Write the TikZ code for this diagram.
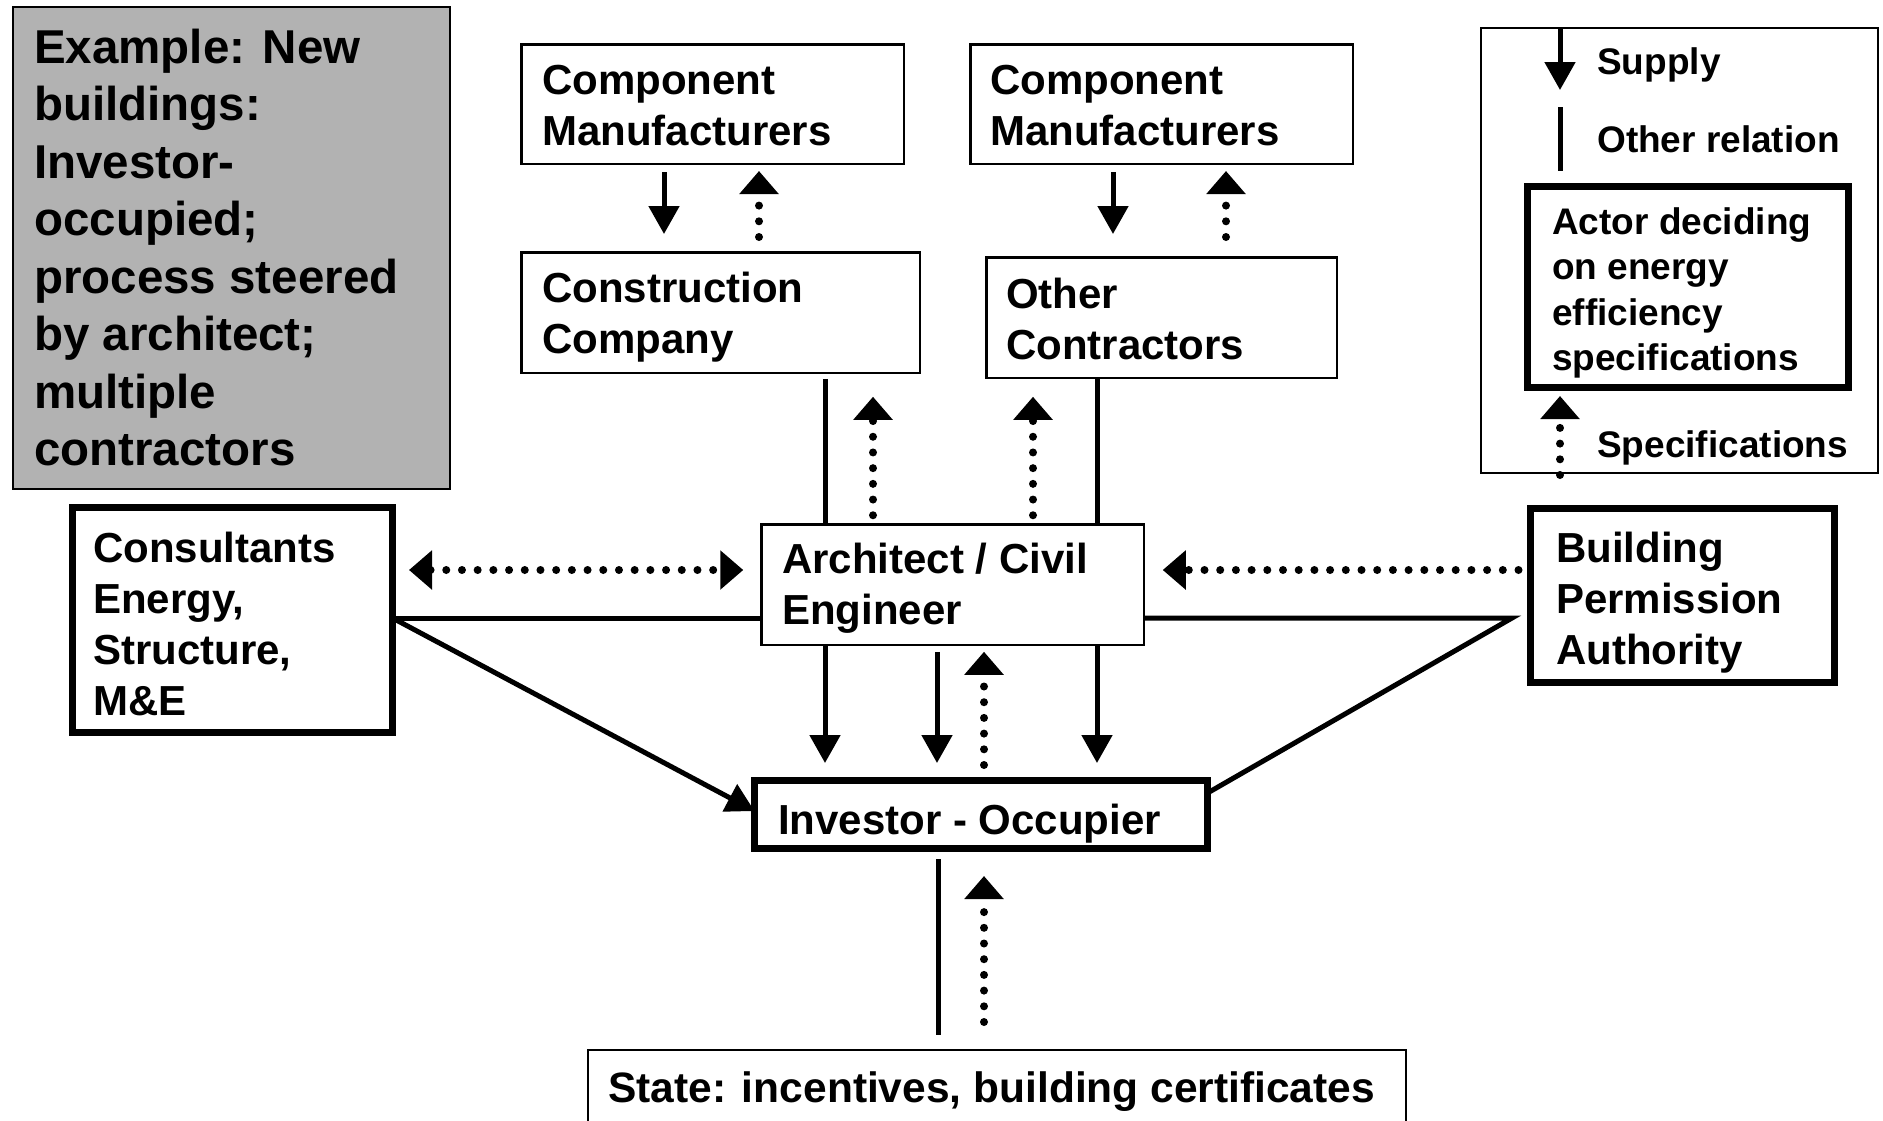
\documentclass[tikz,border=0pt]{standalone}
\usepackage{fontspec}
\setmainfont{Liberation Sans}
\usetikzlibrary{arrows.meta,calc}

\definecolor{panelgray}{gray}{0.70}
\newcommand\boxfont{\fontsize{42pt}{51pt}\selectfont\bfseries}
\newcommand\panelfont{\fontsize{47.5pt}{57.5pt}\selectfont\bfseries}
\newcommand\keyfont{\fontsize{37pt}{45.5pt}\selectfont\bfseries}

% Multi-line labels are placed by the baseline of their last line.
\tikzset{
  box/.style={draw, inner sep=0pt, outer sep=0pt, anchor=north west},
  thinbox/.style={box, line width=2.5pt},
  thickbox/.style={box, line width=7pt},
  lbl/.style={anchor=base west, inner sep=0pt, align=left, font=\boxfont},
  keylbl/.style={lbl, font=\keyfont},
  rel/.style={line width=5pt},
  supply/.style={rel, -{Triangle[length=28pt,width=30pt]}},
  spec/.style={line width=8pt, line cap=round, dash pattern=on 0pt off 15.7pt,
               -{Triangle[length=23pt,width=38pt]}},
  specboth/.style={line width=8pt, line cap=round, dash pattern=on 0pt off 15.7pt,
               {Triangle[length=23pt,width=38pt]}-{Triangle[length=23pt,width=38pt]}},
}

\begin{document}
\begin{tikzpicture}[x=1pt,y=-1pt]
\useasboundingbox (0,0) rectangle (1883,1120);
\clip (0,0) rectangle (1883,1120);

% ---- caption panel ----
\node[box, line width=2pt, fill=panelgray, minimum width=437pt, minimum height=482pt] (panel) at (13,7) {};
\node[lbl, font=\panelfont] (panel text) at (34,465.5)
  {Example: New\\buildings:\\Investor-\\occupied;\\process steered\\by architect;\\multiple\\contractors};

% ---- actors ----
\node[thinbox, minimum width=382.5pt, minimum height=119.5pt] (cm1) at (521.25,44.25) {};
\node[lbl] (cm1 text) at (542,145) {Component\\Manufacturers};

\node[thinbox, minimum width=382.5pt, minimum height=119.5pt] (cm2) at (970.25,44.25) {};
\node[lbl] (cm2 text) at (990,145) {Component\\Manufacturers};

\node[thinbox, minimum width=398.5pt, minimum height=120.5pt] (cc) at (521.25,252.25) {};
\node[lbl] (cc text) at (542,353) {Construction\\Company};

\node[thinbox, minimum width=350.5pt, minimum height=120.5pt] (oc) at (986.25,257.25) {};
\node[lbl] (oc text) at (1006,359) {Other\\Contractors};

\node[thinbox, minimum width=382.5pt, minimum height=120.5pt] (arch) at (761.25,524.25) {};
\node[lbl] (arch text) at (782,624) {Architect / Civil\\Engineer};

\node[thickbox, minimum width=453pt, minimum height=68pt] (inv) at (754.5,780.5) {};
\node[lbl] (inv text) at (778,834) {Investor - Occupier};

\node[thickbox, minimum width=320pt, minimum height=225pt] (cons) at (72.5,507.5) {};
\node[lbl] (cons text) at (93,715) {Consultants\\Energy,\\Structure,\\M\&E};

\node[thickbox, minimum width=304pt, minimum height=174pt] (bpa) at (1530.5,508.5) {};
\node[lbl] (bpa text) at (1556,664) {Building\\Permission\\Authority};

\node[box, line width=2pt, minimum width=818pt, minimum height=110pt] (state) at (588,1050) {};
\node[lbl, font=\fontsize{42.5pt}{51pt}\selectfont\bfseries] (state text) at (608,1102) {State: incentives, building certificates};

% ---- key ----
\node[box, line width=2pt, minimum width=397pt, minimum height=445pt] (key) at (1481,28) {};
\node[thickbox, minimum width=321pt, minimum height=201pt] (actor) at (1527.5,186.5) {};
\node[keylbl] (actor text) at (1552,370.5) {Actor deciding\\on energy\\efficiency\\specifications};
\node[keylbl] (supply text) at (1597,74) {Supply};
\node[keylbl] (other text) at (1597,152) {Other relation};
\node[keylbl] (spec text) at (1597,457) {Specifications};

% ---- port positions ----
\coordinate (xa) at (664,0);
\coordinate (xb) at (759,0);
\coordinate (xc) at (1113,0);
\coordinate (xd) at (1226,0);
\coordinate (xe) at (825,0);
\coordinate (xf) at (873,0);
\coordinate (xg) at (1033,0);
\coordinate (xh) at (1097,0);
\coordinate (xi) at (937,0);
\coordinate (xj) at (984,0);
\coordinate (xk) at (938,0);
\coordinate (xl) at (1560,0);
\coordinate (ya) at (0,570);
\coordinate (yb) at (0,618);
\coordinate (yc) at (0,811);
\coordinate (yd) at (0,793);
\coordinate (bend) at (1512,618);

% ---- manufacturers <-> contractors ----
\draw[supply, shorten <=8.25pt, shorten >=18.25pt] (cm1.south -| xa) -- (cc.north -| xa);
\draw[spec, shorten <=15.25pt, shorten >=7.25pt] (cc.north -| xb) -- (cm1.south -| xb);
\draw[supply, shorten <=8.25pt, shorten >=23.25pt] (cm2.south -| xc) -- (oc.north -| xc);
\draw[spec, shorten <=20.25pt, shorten >=7.25pt] (oc.north -| xd) -- (cm2.south -| xd);

% ---- contractors <-> architect ----
\draw[rel, shorten <=6pt] (cc.south -| xe) -- (arch.north -| xe);
\draw[spec, shorten <=9pt, shorten >=24pt] (arch.north -| xf) -- (cc.south -| xf);
\draw[spec, shorten <=9pt, shorten >=19pt] (arch.north -| xg) -- (oc.south -| xg);
\draw[rel, shorten <=1pt] (oc.south -| xh) -- (arch.north -| xh);

% ---- architect <-> investor ----
\draw[supply, shorten >=17.5pt] (arch.south -| xe) -- (inv.north -| xe);
\draw[supply, shorten <=7pt, shorten >=17.5pt] (arch.south -| xi) -- (inv.north -| xi);
\draw[supply, shorten >=17.5pt] (arch.south -| xh) -- (inv.north -| xh);
\draw[spec, shorten <=15.5pt, shorten >=7pt] (inv.north -| xj) -- (arch.south -| xj);

% ---- consultants ----
\draw[specboth, shorten <=16.5pt, shorten >=18pt] (cons.east |- ya) -- (arch.west |- ya);
\draw[rel] (cons.east |- yb) -- (arch.west |- yb);
\draw[rel, -{Triangle[length=28pt,width=30pt]}] (cons.east |- yb) -- (inv.west |- yc);

% ---- building permission authority ----
\draw[spec, shorten <=12pt, shorten >=19pt] (bpa.west |- ya) -- (arch.east |- ya);
\draw[rel] (arch.east |- yb) -- (bend) -- (inv.east |- yd);

% ---- state ----
\draw[rel, shorten <=10.5pt, shorten >=15pt] (inv.south -| xk) -- (state.north -| xk);
\draw[spec, shorten <=28pt, shorten >=27.5pt] (state.north -| xj) -- (inv.south -| xj);

% ---- key symbols ----
\coordinate (supply end) at (1560,90);
\coordinate (other top) at (1560,107);
\coordinate (other bottom) at (1560,171);
\coordinate (spec start) at (1560,475);
\draw[supply] (key.north -| xl) -- (supply end);
\draw[rel] (other top) -- (other bottom);
\draw[spec, shorten >=8.5pt] (spec start) -- (actor.south -| xl);
\end{tikzpicture}
\end{document}
